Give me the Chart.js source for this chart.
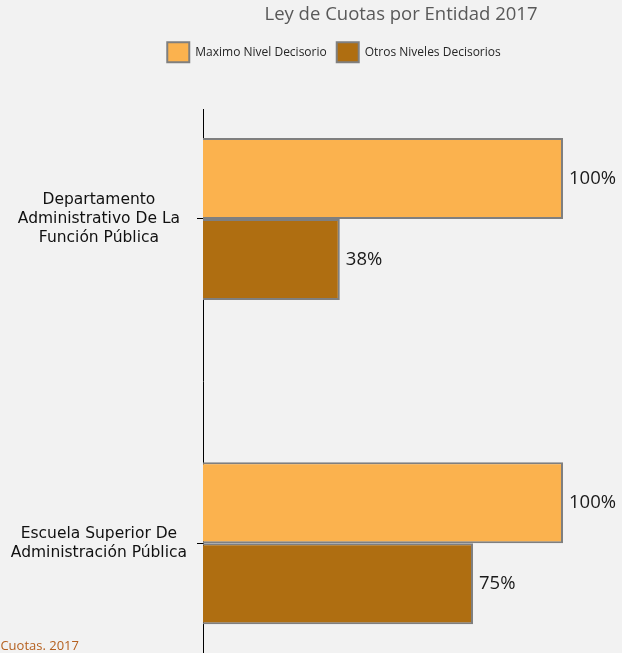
<!DOCTYPE html>
<html>
<head>
<meta charset="utf-8">
<script src="https://cdn.jsdelivr.net/npm/chart.js@4.4.1/dist/chart.umd.min.js"></script>
<style>
  html, body { margin: 0; padding: 0; background: #f2f2f2; overflow: hidden; }
  #wrap { position: relative; width: 622px; height: 653px; }
  #fuente {
    position: absolute; right: 543px; top: 636px;
    white-space: nowrap; font: 13px "Open Sans", sans-serif; color: #b5601f;
  }
</style>
</head>
<body>
<div id="wrap">
  <canvas id="chart" width="622" height="653"></canvas>
  <div id="fuente">Fuente: Ley de Cuotas. 2017</div>
</div>
<script>
const entidades = [
    ["Departamento", "Administrativo De La", "Función Pública"],
    ["Escuela Superior De", "Administración Pública"]
];
const maximoNivel = [100, 100];
const otrosNiveles = [38, 75];
const series = ["Maximo Nivel Decisorio", "Otros Niveles Decisorios"];


/* etiquetas de valor al final de cada barra */

const etiquetas = {
    id: "etiquetas",
    afterDatasetsDraw(chart) {
        const ctx = chart.ctx;
        ctx.save();
        ctx.font = '18.5px "Open Sans"';
        ctx.fillStyle = "#1a1a1a";
        ctx.textBaseline = "middle";
        chart.data.datasets.forEach((ds, i) => {
            chart.getDatasetMeta(i).data.forEach((bar, j) => {
                ctx.fillText(ds.data[j].x + "%", bar.x + 6, bar.y);
            });
        });
        ctx.restore();
    }
};

const aPuntos = arr => arr.map((v, i) => ({ x: v, y: i }));

new Chart(document.getElementById("chart"), {

    type: "bar",

    data: {
        datasets: [
            {
                label: series[0],
                data: aPuntos(maximoNivel),
                backgroundColor: "#fbb24e",
                borderColor: "#7f7f7f",
                borderWidth: 2
            },
            {
                label: series[1],
                data: aPuntos(otrosNiveles),
                backgroundColor: "#af6e11",
                borderColor: "#7f7f7f",
                borderWidth: 2
            }
        ]
    },

    options: {
        indexAxis: "y",
        responsive: false,
        animation: false,
        categoryPercentage: 0.5,
        barPercentage: 1,

        layout: {
            padding: { left: 69, right: 23, top: 0, bottom: 0 }
        },

        plugins: {
            title: {
                display: true,
                text: "Ley de Cuotas por Entidad 2017",
                fullSize: false,
                color: "#595959",
                font: { family: "Open Sans", size: 18.5, weight: "normal" },
                padding: { top: 4, bottom: 6 }
            },
            legend: {
                position: "top",
                labels: {
                    boxWidth: 22,
                    boxHeight: 20,
                    padding: 10,
                    color: "#262626",
                    font: { family: "Open Sans", size: 12 }
                }
            },
            tooltip: { enabled: false }
        },

        scales: {
            x: {
                position: "top",
                min: 0,
                max: 110,
                ticks: { display: false },
                grid: { display: false },
                border: { display: false },
                afterFit(s) { s.height = 37; }
            },
            y: {
                type: "linear",
                reverse: true,
                offset: false,
                min: -0.3385,
                max: 1.3385,
                afterBuildTicks(s) {
                    s.ticks = entidades.map((_, i) => ({ value: i }));
                },
                afterFit(s) {
                    s.width = 134;
                    s.paddingTop = 0;
                    s.paddingBottom = 0;
                    // las etiquetas sobresalen a la izquierda del eje
                    s._computeLabelArea = () => undefined;
                },
                ticks: {
                    autoSkip: false,
                    crossAlign: "center",
                    padding: 10,
                    color: "#111",
                    font: { family: "DejaVu Sans", size: 15.5, lineHeight: 1.2 },
                    callback: v => entidades[v]
                },
                grid: {
                    offset: false,
                    drawOnChartArea: false,
                    drawTicks: true,
                    tickLength: 6,
                    color: "#000"
                },
                border: { display: true, color: "#000", width: 1 }
            }
        }
    },

    plugins: [etiquetas]
});
</script>
</body>
</html>
